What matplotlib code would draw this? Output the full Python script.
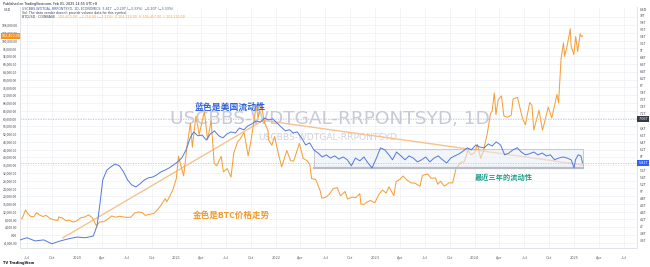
import matplotlib
matplotlib.use("Agg")
import matplotlib.pyplot as plt
import matplotlib.dates as mdates
import matplotlib.transforms as mtrans
from matplotlib.patches import Rectangle
from matplotlib.ticker import FuncFormatter, FixedLocator
import pandas as pd

plt.rcParams['font.family'] = ['Noto Sans CJK SC', 'DejaVu Sans']

# ---------------- data ----------------
btc_dates = ["2019-06-07", "2019-06-15", "2019-06-26", "2019-07-05", "2019-07-16", "2019-07-27", "2019-08-06",
             "2019-08-17", "2019-08-29", "2019-09-10", "2019-09-24", "2019-10-06", "2019-10-23", "2019-10-26",
             "2019-11-08", "2019-11-22", "2019-12-06", "2019-12-17", "2019-12-31",
             "2020-01-14", "2020-01-31", "2020-02-13", "2020-02-27", "2020-03-12", "2020-03-26", "2020-04-10",
             "2020-04-29", "2020-05-08", "2020-05-22", "2020-06-05", "2020-06-19", "2020-07-03", "2020-07-17",
             "2020-07-31", "2020-08-16", "2020-08-28", "2020-09-08", "2020-09-25", "2020-10-09", "2020-10-23",
             "2020-11-06", "2020-11-20", "2020-11-26", "2020-12-04", "2020-12-18", "2020-12-31",
             "2021-01-08", "2021-01-15", "2021-01-27", "2021-02-09", "2021-02-21", "2021-02-28", "2021-03-13",
             "2021-03-25", "2021-04-13", "2021-04-25", "2021-05-08", "2021-05-19", "2021-05-28", "2021-06-14",
             "2021-06-22", "2021-07-06", "2021-07-20", "2021-07-30", "2021-08-13", "2021-08-22", "2021-09-06",
             "2021-09-21", "2021-10-01", "2021-10-15", "2021-10-20", "2021-10-28", "2021-11-08", "2021-11-19",
             "2021-12-03", "2021-12-04", "2021-12-17", "2021-12-27",
             "2022-01-10", "2022-01-22", "2022-02-10", "2022-02-24", "2022-03-07", "2022-03-28", "2022-04-11",
             "2022-04-26", "2022-05-05", "2022-05-12", "2022-05-27", "2022-06-13", "2022-06-18", "2022-07-01",
             "2022-07-15", "2022-07-30", "2022-08-14", "2022-08-26", "2022-09-12", "2022-09-21", "2022-10-07",
             "2022-10-21", "2022-11-05", "2022-11-09", "2022-11-21", "2022-12-02", "2022-12-14", "2022-12-30",
             "2023-01-14", "2023-01-27", "2023-02-10", "2023-02-20", "2023-03-10", "2023-03-18", "2023-03-31",
             "2023-04-13", "2023-04-26", "2023-05-12", "2023-05-26", "2023-06-14", "2023-06-23", "2023-07-13",
             "2023-07-24", "2023-08-10", "2023-08-18", "2023-08-29", "2023-09-11", "2023-09-29", "2023-10-12",
             "2023-10-24", "2023-11-10", "2023-11-24", "2023-12-08", "2023-12-18", "2023-12-31",
             "2024-01-11", "2024-01-23", "2024-02-02", "2024-02-16", "2024-02-28", "2024-03-05", "2024-03-13",
             "2024-03-19", "2024-03-27", "2024-04-08", "2024-04-17", "2024-04-30", "2024-05-14", "2024-05-21",
             "2024-06-06", "2024-06-24", "2024-07-05", "2024-07-21", "2024-07-29", "2024-08-05", "2024-08-24",
             "2024-09-06", "2024-09-27", "2024-10-10", "2024-10-29", "2024-11-04", "2024-11-13", "2024-11-22",
             "2024-11-26", "2024-12-05", "2024-12-17", "2024-12-20", "2024-12-30",
             "2025-01-06", "2025-01-13", "2025-01-20", "2025-01-22", "2025-01-27", "2025-01-31"]
btc_values = [8000, 8800, 12900, 11000, 9400, 9500, 11500,
              10300, 9500, 10100, 8500, 7900, 7450, 9250,
              8800, 7300, 7550, 6650, 7200,
              8800, 9350, 10350, 8800, 4900, 6750, 6900,
              8800, 9800, 9150, 9650, 9300, 9100, 9150,
              11350, 11900, 11500, 10100, 10700, 11050, 12950,
              15600, 18700, 17100, 19150, 23150, 29000,
              40500, 36800, 30400, 46400, 57500, 45200, 61200,
              51700, 63500, 49000, 58800, 37000, 35600, 40500,
              32500, 34200, 29800, 42200, 47800, 49300, 52700,
              40700, 48200, 61500, 66000, 60600, 67500, 58100,
              53700, 49200, 46200, 50700,
              41800, 35100, 43500, 38300, 38000, 47100, 39500,
              38100, 36500, 29000, 28600, 22500, 19000, 19300,
              20800, 23800, 24400, 20200, 22400, 18500, 19500,
              19200, 21300, 15900, 15800, 17000, 17800, 16600,
              20900, 23100, 21600, 24800, 20200, 27400, 28500,
              30400, 28400, 26800, 26700, 25100, 30700, 31400,
              29200, 29400, 26100, 27700, 25100, 26900, 26800,
              34000, 37300, 37800, 43800, 41300, 42300,
              46600, 39500, 43200, 52100, 62500, 63800, 73100,
              62000, 69500, 71600, 61300, 60600, 61600, 70100,
              70800, 60300, 56700, 68200, 66800, 54000, 64200,
              53900, 65800, 60300, 72300, 68000, 90500, 98900,
              91900, 97000, 106100, 97200, 92800,
              102100, 94500, 101200, 103600, 102100, 102400]

liq_dates = ["2019-06-07", "2019-07-01", "2019-08-01", "2019-09-01", "2019-10-01", "2019-11-01", "2019-12-01",
             "2020-01-01", "2020-02-01", "2020-03-01", "2020-03-15", "2020-03-25", "2020-04-05", "2020-04-20",
             "2020-05-05", "2020-05-20", "2020-06-05", "2020-06-20", "2020-07-05", "2020-07-20", "2020-08-05",
             "2020-08-20", "2020-09-05", "2020-09-20", "2020-10-05", "2020-10-20", "2020-11-05", "2020-11-20",
             "2020-12-05", "2020-12-20",
             "2021-01-05", "2021-01-20", "2021-02-05", "2021-02-20", "2021-03-05", "2021-03-20", "2021-04-05",
             "2021-04-20", "2021-05-05", "2021-05-20", "2021-06-05", "2021-06-20", "2021-07-05", "2021-07-20",
             "2021-08-05", "2021-08-20", "2021-09-05", "2021-09-20", "2021-10-05", "2021-10-20", "2021-11-05",
             "2021-11-20", "2021-12-05", "2021-12-20",
             "2022-01-05", "2022-01-20", "2022-02-05", "2022-02-20", "2022-03-05", "2022-03-20", "2022-04-05",
             "2022-04-20", "2022-05-05", "2022-05-20", "2022-06-05", "2022-06-20", "2022-07-05", "2022-07-20",
             "2022-08-05", "2022-08-20", "2022-09-05", "2022-09-20", "2022-10-05", "2022-10-20", "2022-11-05",
             "2022-11-20", "2022-12-05", "2022-12-20",
             "2023-01-05", "2023-01-20", "2023-02-05", "2023-02-20", "2023-03-05", "2023-03-20", "2023-04-05",
             "2023-04-20", "2023-05-05", "2023-05-20", "2023-06-05", "2023-06-20", "2023-07-05", "2023-07-20",
             "2023-08-05", "2023-08-20", "2023-09-05", "2023-09-20", "2023-10-05", "2023-10-20", "2023-11-05",
             "2023-11-20", "2023-12-05", "2023-12-20",
             "2024-01-05", "2024-01-20", "2024-02-05", "2024-02-20", "2024-03-05", "2024-03-20", "2024-04-05",
             "2024-04-20", "2024-05-05", "2024-05-20", "2024-06-05", "2024-06-20", "2024-07-05", "2024-07-20",
             "2024-08-05", "2024-08-20", "2024-09-05", "2024-09-20", "2024-10-05", "2024-10-20", "2024-11-05",
             "2024-11-20", "2024-12-05", "2024-12-20", "2024-12-31",
             "2025-01-05", "2025-01-15", "2025-01-25", "2025-01-31"]
liq_values = [3.63, 3.69, 3.60, 3.63, 3.52, 3.60, 3.66,
              3.71, 3.69, 3.74, 4.03, 4.62, 5.33, 5.61,
              5.70, 5.78, 5.73, 5.56, 5.33, 5.19, 5.13,
              5.22, 5.33, 5.39, 5.41, 5.47, 5.56, 5.61,
              5.67, 5.75,
              5.84, 5.95, 6.18, 6.52, 6.69, 6.58, 6.60,
              6.46, 6.63, 6.72, 6.58, 6.52, 6.63, 6.69,
              6.66, 6.80, 6.75, 6.86, 6.92, 7.00, 6.97,
              7.08, 7.03, 7.06,
              6.94, 6.83, 6.72, 6.75, 6.66, 6.69, 6.52,
              6.32, 6.38, 6.18, 6.09, 5.98, 6.04, 5.95,
              6.01, 5.92, 5.98, 5.90, 5.73, 5.95, 5.87,
              5.98, 5.81, 5.67,
              5.95, 6.24, 6.18, 6.04, 5.90, 6.12, 6.01,
              5.90, 6.01, 5.95, 5.84, 5.90, 5.98, 5.84,
              5.95, 6.01, 5.90, 5.81, 5.95, 6.01, 6.07,
              6.15, 6.24, 6.18,
              6.32, 6.26, 6.24, 6.35, 6.29, 6.41, 6.32,
              6.04, 6.09, 6.18, 6.24, 6.12, 6.04, 6.07,
              6.12, 6.04, 6.09, 6.01, 6.04, 5.90, 5.95,
              5.98, 5.95, 5.90, 5.67,
              5.90, 6.04, 6.01, 5.81]

# trend lines drawn by the author (left axis, USD)
trend_dates = ["2019-11-10", "2021-11-15", "2025-02-03"]
trend_values = [-1500, 59000, 36000]

# range box (right axis, T)
box_dates = ["2022-05-22", "2025-02-03"]
box_values = [5.67, 6.21]
peak_line_value = 7.06

x_ticks = ["2019-07-01", "2019-10-01", "2020-01-01", "2020-04-01", "2020-07-01", "2020-10-01",
           "2021-01-01", "2021-04-01", "2021-07-01", "2021-10-01", "2022-01-01", "2022-04-01",
           "2022-07-01", "2022-10-01", "2023-01-01", "2023-04-01", "2023-07-01", "2023-10-01",
           "2024-01-01", "2024-04-01", "2024-07-01", "2024-10-01", "2025-01-01", "2025-04-01", "2025-07-01"]
x_labels = ["Jul", "Oct", "2020", "Apr", "Jul", "Oct", "2021", "Apr", "Jul", "Oct", "2022", "Apr", "Jul", "Oct",
            "2023", "Apr", "Jul", "Oct", "2024", "Apr", "Jul", "Oct", "2025", "Apr", "Jul"]
left_ticks = list(range(-4000, 116000, 4000))
right_ticks = [round(3.6 + 0.2 * i, 1) for i in range(33)]

# ---------------- figure ----------------
W, H = 650, 267
fig = plt.figure(figsize=(6.5, 2.67), dpi=100)
fig.patch.set_facecolor("white")
ax = fig.add_axes([20 / W, 19 / H, 617 / W, 241 / H])
ax2 = ax.twinx()

bd = mdates.date2num(pd.to_datetime(btc_dates))
ld = mdates.date2num(pd.to_datetime(liq_dates))

ax.set_xlim(mdates.date2num(pd.Timestamp("2019-06-06")), mdates.date2num(pd.Timestamp("2025-08-19")))
ax.set_ylim(-6690, 117340)
ax2.set_ylim(3.40, 10.23)

grid_c = "#eef0f5"
xt = mdates.date2num(pd.to_datetime(x_ticks))
for x in xt:
    ax.axvline(x, color=grid_c, lw=0.5, zorder=0)
for y in left_ticks:
    ax.axhline(y, color=grid_c, lw=0.5, zorder=0)

# watermarks
ax.text(0.502, 0.535, "USCBBS-WDTGAL-RRPONTSYD, 1D", transform=ax.transAxes, ha="center", va="center",
        fontsize=13.3, color="#c9c9d8", family="DejaVu Sans", zorder=1)
ax.text(0.498, 0.457, "USCBBS-WDTGAL-RRPONTSYD", transform=ax.transAxes, ha="center", va="center",
        fontsize=6.6, color="#d2d2de", family="DejaVu Sans", zorder=1)

# box
b0, b1 = mdates.date2num(pd.to_datetime(box_dates))
ax2.add_patch(Rectangle((b0, box_values[0]), b1 - b0, box_values[1] - box_values[0],
                        facecolor="#e9edf6", alpha=0.55, edgecolor="#9ea3b0", lw=0.7, zorder=1))
ax2.plot([b0, b1], [box_values[0], box_values[0]], color="#b8bcc8", lw=1.6, zorder=1.5)

# dotted horizontal price lines
ax2.axhline(peak_line_value, color="#c3c6ce", lw=0.6, ls=(0, (1.5, 1.5)), zorder=1)
ax2.axhline(liq_values[-1], color="#c3c6ce", lw=0.6, ls=(0, (1.5, 1.5)), zorder=1)

# trend lines
td = mdates.date2num(pd.to_datetime(trend_dates))
ax.plot(td, trend_values, color="#f6c290", lw=1.0, zorder=2, solid_capstyle="round")

# series
ax.plot(bd, btc_values, color="#f5a13a", lw=0.75, zorder=3)
ax2.plot(ld, liq_values, color="#5478d8", lw=0.7, zorder=3)

# axes styling
for a in (ax, ax2):
    a.spines["top"].set_visible(False)
    for s in ("left", "right", "bottom"):
        a.spines[s].set_color("#e0e3eb")
        a.spines[s].set_linewidth(0.6)

ax.xaxis.set_major_locator(FixedLocator(xt))
ax.set_xticklabels(x_labels)
ax.tick_params(axis="x", length=0, labelsize=2.8, colors="#5d606b", pad=6)

ax.yaxis.set_major_locator(FixedLocator(left_ticks[:-1]))
ax.yaxis.set_major_formatter(FuncFormatter(lambda v, p: f"{v:,.2f}"))
ax.tick_params(axis="y", length=0, labelsize=2.4, colors="#434651", pad=2)

ax2.yaxis.set_major_locator(FixedLocator([t for t in right_ticks if abs(t - liq_values[-1]) > 0.09
                                          and abs(t - peak_line_value) > 0.09]))
ax2.yaxis.set_major_formatter(FuncFormatter(lambda v, p: (f"{v:.0f}T" if abs(v - round(v)) < 1e-6 else f"{v:.1f}T")))
ax2.tick_params(axis="y", length=0, labelsize=2.4, colors="#434651", pad=2)

# axis price labels
lt = mtrans.blended_transform_factory(fig.transFigure, ax.transData)
ax.text(11 / W, btc_values[-1], f"{btc_values[-1]:,.2f}", transform=lt, ha="center", va="center",
        fontsize=2.3, color="white", family="DejaVu Sans", zorder=10, clip_on=False,
        bbox=dict(boxstyle="square,pad=0.3", fc="#f7931a", ec="none"))
rt = mtrans.blended_transform_factory(fig.transFigure, ax2.transData)
ax2.text(643 / W, liq_values[-1], f"{liq_values[-1]:.2f}T", transform=rt, ha="center", va="center",
         fontsize=2.4, color="white", family="DejaVu Sans", zorder=10, clip_on=False,
         bbox=dict(boxstyle="square,pad=0.3", fc="#2962ff", ec="none"))
ax2.text(643 / W, peak_line_value, f"{peak_line_value:.2f}T", transform=rt, ha="center", va="center",
         fontsize=2.4, color="white", family="DejaVu Sans", zorder=10, clip_on=False,
         bbox=dict(boxstyle="square,pad=0.3", fc="#363a45", ec="none"))

# annotations (Chinese)
ax.text(mdates.date2num(pd.Timestamp("2021-07-15")), 66000, "蓝色是美国流动性", ha="center", va="center",
        fontsize=6.4, color="#2f62d8", fontweight="bold", zorder=6)
ax.text(mdates.date2num(pd.Timestamp("2021-07-20")), 10300, "金色是BTC价格走势", ha="center", va="center",
        fontsize=6.2, color="#f29b2c", fontweight="bold", zorder=6)
ax.text(mdates.date2num(pd.Timestamp("2024-04-15")), 29500, "最近三年的流动性", ha="center", va="center",
        fontsize=5.2, color="#1f9e8a", fontweight="bold", zorder=6)

# header / legend texts
fig.text(3 / W, 1 - 3.5 / H, "Published on TradingView.com, Feb 01, 2025 14:55 UTC+8", fontsize=2.3,
         color="#131722", va="center", family="DejaVu Sans")
fig.text(4 / W, 1 - 10 / H, "USD", fontsize=2.4, color="#434651", va="center", family="DejaVu Sans")
fig.text(640 / W, 1 - 10 / H, "USD", fontsize=2.4, color="#434651", va="center", family="DejaVu Sans")
fig.text(22 / W, 1 - 9.5 / H, "USCBBS-WDTGAL-RRPONTSYD, 1D, ECONOMICS  5.81T  −0.20T (−3.33%)  −0.20T (−3.33%)",
         fontsize=2.3, color="#3d5a9e", va="center", family="DejaVu Sans")
fig.text(22 / W, 1 - 13 / H, "Vol  The data vendor doesn't provide volume data for this symbol.",
         fontsize=2.3, color="#434651", va="center", family="DejaVu Sans")
fig.text(22 / W, 1 - 16.5 / H, "BTCUSD · COINBASE", fontsize=2.3, color="#434651", va="center", family="DejaVu Sans")
fig.text(58 / W, 1 - 16.5 / H, "102,400.00  −2,310.00 (−2.21%)  O 104,710.00  H 106,457.00  L 101,210.00",
         fontsize=2.3, color="#f5a13a", va="center", family="DejaVu Sans")
fig.text(3 / W, 1 - 263 / H, "TV TradingView", fontsize=2.6, color="#131722", va="center",
         fontweight="bold", family="DejaVu Sans")

fig.savefig("out.png", dpi=100, facecolor="white")
